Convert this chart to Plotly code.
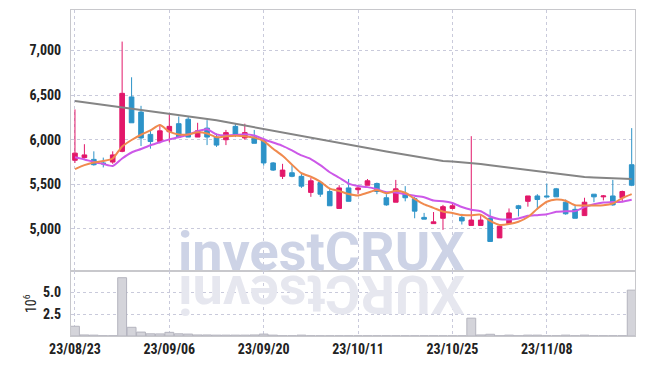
import plotly.graph_objects as go

dates = ["23/08/23","23/08/24","23/08/25","23/08/28","23/08/29","23/08/30","23/08/31",
         "23/09/01","23/09/04","23/09/05","23/09/06","23/09/07","23/09/08","23/09/11",
         "23/09/12","23/09/13","23/09/14","23/09/15","23/09/18","23/09/19","23/09/20",
         "23/09/21","23/09/22","23/09/25","23/09/26","23/09/27","23/10/04","23/10/05",
         "23/10/06","23/10/10","23/10/11","23/10/12","23/10/13","23/10/16","23/10/17",
         "23/10/18","23/10/19","23/10/20","23/10/23","23/10/24","23/10/25","23/10/26",
         "23/10/27","23/10/30","23/10/31","23/11/01","23/11/02","23/11/03","23/11/06",
         "23/11/07","23/11/08","23/11/09","23/11/10","23/11/13","23/11/14","23/11/15",
         "23/11/16","23/11/17","23/11/20","23/11/21"]

open_ = [5770,5800,5780,5740,5750,5870,6480,6310,6060,5980,6090,6180,6230,6030,6130,
         6030,6000,6150,6020,6030,5990,5740,5590,5630,5590,5410,5520,5420,5230,5460,
         5440,5490,5510,5350,5300,5390,5340,5130,5060,5120,5230,5130,5040,5040,5120,
         4900,5060,5260,5310,5370,5370,5450,5300,5220,5150,5390,5360,5370,5350,5720]
high = [6340,5950,5870,5800,5870,7100,6700,6380,6110,6170,6290,6260,6260,6190,6220,
        6070,6110,6180,6180,6110,6020,5750,5730,5720,5630,5570,5530,5460,5490,5560,
        5490,5560,5520,5390,5550,5480,5360,5180,5190,5270,5280,5170,6040,5160,5220,
        5040,5230,5270,5370,5390,5510,5460,5330,5270,5350,5390,5380,5550,5430,6130]
low = [5740,5790,5710,5690,5730,5860,6190,5930,5900,5960,5970,6020,6030,6030,5940,
       5920,5940,6030,6000,5960,5710,5650,5560,5580,5460,5360,5360,5260,5230,5310,
       5390,5490,5390,5260,5300,5310,5120,5110,5060,4990,5220,5050,5040,5040,4860,
       4900,5060,5140,5250,5220,5360,5360,5160,5120,5150,5300,5320,5260,5300,5480]
close = [5850,5830,5720,5730,5830,6520,6190,6020,5980,6100,6150,6030,6030,6100,6030,
         5940,6080,6060,6080,5960,5740,5660,5660,5590,5480,5540,5390,5260,5460,5310,
         5460,5540,5420,5270,5450,5350,5200,5110,5080,5250,5260,5090,5100,5100,4860,
         5030,5180,5230,5370,5330,5360,5360,5170,5120,5300,5360,5370,5270,5420,5490]

ma5 = [5670,5715,5745,5762,5790,5925,5997,6056,6105,6165,6090,6058,6059,6084,6070,
       6029,6038,6044,6040,6024,5984,5900,5820,5721,5625,5585,5531,5452,5426,5392,
       5376,5406,5437,5400,5428,5406,5337,5275,5237,5196,5178,5156,5155,5160,5090,
       5045,5055,5081,5134,5227,5305,5330,5317,5267,5262,5263,5266,5286,5346,5390]
ma10 = [5803,5779,5751,5729,5706,5790,5857,5896,5938,5972,6004,6028,6058,6095,6117,
        6060,6048,6052,6062,6048,6006,5969,5932,5881,5825,5784,5716,5636,5574,5509,
        5481,5469,5445,5413,5410,5391,5372,5356,5318,5312,5292,5246,5215,5198,5140,
        5110,5106,5118,5147,5155,5165,5192,5199,5200,5245,5278,5297,5301,5306,5328]
ma60 = [6434,6420,6406,6392,6378,6364,6350,6336,6322,6308,6294,6280,6266,6252,6238,
        6218,6198,6178,6158,6138,6118,6098,6078,6058,6038,6019,6000,5981,5962,5944,
        5925,5906,5887,5868,5850,5831,5813,5796,5777,5763,5756,5749,5743,5728,5713,
        5700,5686,5672,5658,5643,5631,5619,5606,5594,5582,5576,5572,5568,5564,5561]

volume_m = [1.12,0.12,0.10,0.03,0.03,6.70,1.00,0.45,0.25,0.24,0.42,0.25,0.22,0.12,0.12,
            0.10,0.10,0.10,0.10,0.12,0.22,0.10,0.03,0.03,0.10,0.03,0.02,0.02,0.02,0.02,
            0.02,0.02,0.02,0.02,0.02,0.02,0.02,0.02,0.02,0.02,0.02,0.02,2.05,0.12,0.20,
            0.03,0.10,0.03,0.10,0.10,0.03,0.03,0.10,0.03,0.10,0.03,0.03,0.03,0.03,5.27]

price_ticks = [5000, 5500, 6000, 6500, 7000]
vol_ticks = [2.5, 5.0]
date_tick_idx = [0, 10, 20, 30, 40, 50]

xi = list(range(len(dates)))  # trading-day index (gaps skipped)

UP = "#e2186a"
DOWN = "#2d93c8"
GRID = "#c9cadb"
BORDER = "#c8c8cc"
TXT = "#222222"
FONT = "Liberation Sans Narrow, Roboto Condensed, Arial Narrow, sans-serif"

fig = go.Figure()

fig.add_trace(go.Candlestick(
    x=xi, open=open_, high=high, low=low, close=close, text=dates,
    increasing=dict(line=dict(color=UP, width=1), fillcolor=UP),
    decreasing=dict(line=dict(color=DOWN, width=1), fillcolor=DOWN),
    whiskerwidth=0, xaxis="x", yaxis="y", showlegend=False))

fig.add_trace(go.Scatter(x=xi, y=ma60, mode="lines",
                         line=dict(color="#858585", width=2), xaxis="x", yaxis="y", showlegend=False))
fig.add_trace(go.Scatter(x=xi, y=ma10, mode="lines",
                         line=dict(color="#cc58e8", width=2, shape="spline", smoothing=0.6),
                         xaxis="x", yaxis="y", showlegend=False))
fig.add_trace(go.Scatter(x=xi, y=ma5, mode="lines",
                         line=dict(color="#f08a4e", width=2, shape="spline", smoothing=0.6),
                         xaxis="x", yaxis="y", showlegend=False))

fig.add_trace(go.Bar(x=xi, y=volume_m, marker=dict(color="#d4d4da", line=dict(color="#b4b4be", width=1)),
                     xaxis="x2", yaxis="y2", showlegend=False))

xr = [-0.42, 59.35]
common_x = dict(type="linear", range=xr, autorange=False, showgrid=True, gridcolor=GRID,
                griddash="dot", gridwidth=1, showline=True, linecolor=BORDER, mirror=True,
                zeroline=False, tickmode="array", tickvals=date_tick_idx,
                ticktext=[dates[i] for i in date_tick_idx], ticks="")

fig.update_layout(
    width=645, height=366,
    margin=dict(l=71, r=10, t=9, b=29),
    paper_bgcolor="white", plot_bgcolor="white",
    font=dict(family=FONT, size=14, color=TXT, weight="bold"),
    bargap=0.06,
    xaxis=dict(**common_x, anchor="y", showticklabels=False, rangeslider=dict(visible=False)),
    xaxis2=dict(**common_x, anchor="y2", showticklabels=True),
    yaxis=dict(domain=[0.198, 1], range=[4524, 7454], tickvals=price_ticks, tickformat=",",
               showgrid=True, gridcolor=GRID, griddash="dot", showline=True, linecolor=BORDER,
               mirror=True, zeroline=False, ticklabelstandoff=6),
    yaxis2=dict(domain=[0, 0.198], range=[0, 7.42], tickvals=vol_ticks, tickformat=".1f",
                showgrid=True, gridcolor=GRID, griddash="dot", showline=True, linecolor=BORDER,
                mirror=True, zeroline=False, ticklabelstandoff=6,
                title=dict(text="10<sup>6</sup>", font=dict(size=14, color=TXT, weight="normal"),
                           standoff=3)),
    hovermode=False,
)

fig.add_annotation(text="investCRUX", xref="paper", yref="paper", x=0.444, y=0.198,
                   xanchor="center", yanchor="bottom", showarrow=False, yshift=-14,
                   font=dict(family="Roboto", size=54, color="#cdd3e6", weight="bold"))
fig.add_annotation(text="XURCtsevni", xref="paper", yref="paper", x=0.444, y=0.198,
                   xanchor="center", yanchor="top", showarrow=False, textangle=180, yshift=11,
                   font=dict(family="Roboto", size=54, color="#e6e7ef", weight="bold"))

fig.write_html("out.html", config={"displayModeBar": False},
               post_script="document.body.style.margin='0';document.body.style.overflow='hidden';")
